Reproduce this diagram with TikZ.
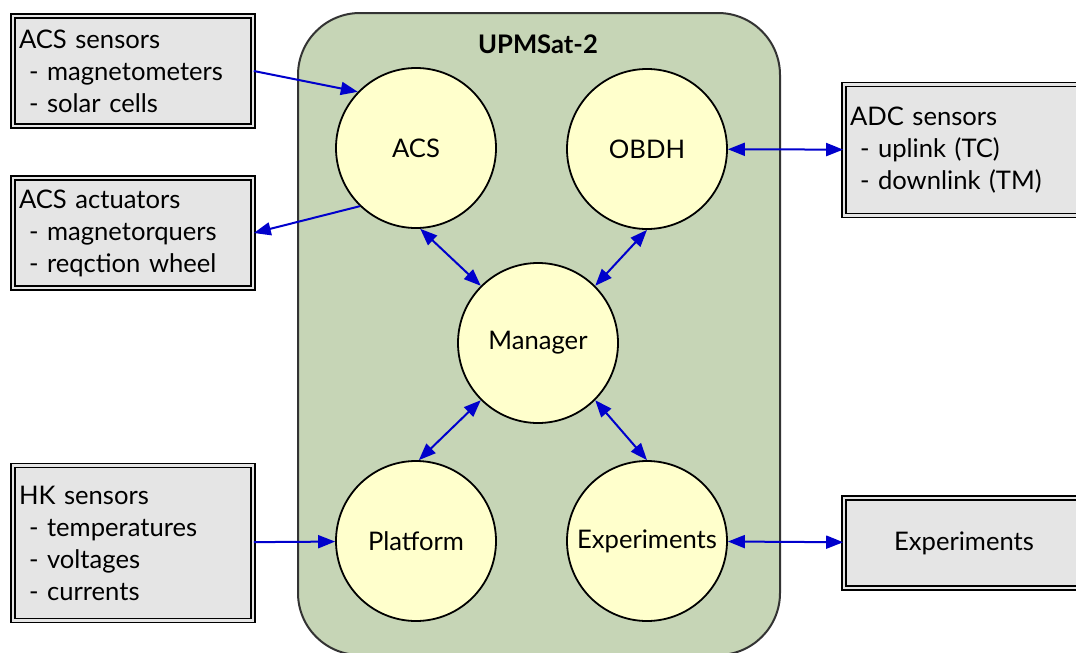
\documentclass[tikz,border=0pt]{standalone}
\usepackage{fontspec}
\setmainfont{Lato}
\usetikzlibrary{arrows.meta}
\definecolor{satgreen}{HTML}{C6D5B6}
\definecolor{blockyellow}{HTML}{FFFFCC}
\definecolor{devicegray}{HTML}{E5E5E5}
\definecolor{linkblue}{HTML}{0000CC}
\begin{document}
\begin{tikzpicture}[x=0.5pt, y=-0.5pt, font=\fontsize{12.8}{16}\selectfont,
  block/.style={draw, circle, black, fill=blockyellow, line width=0.9pt, minimum size=80pt, inner sep=0pt},
  device/.style={draw, rectangle, black, fill=devicegray, line width=0.8pt, double=devicegray, double distance=1.3pt, text width=114pt, inner xsep=3pt, align=left},
  link/.style={linkblue, line width=1pt, -{Triangle[length=8.5pt,width=6.5pt]}},
  duplex/.style={link, {Triangle[length=8.5pt,width=6.5pt]}-{Triangle[length=8.5pt,width=6.5pt]}}]
\useasboundingbox (0,0) rectangle (1076,653);
% satellite
\draw[draw=black!80, fill=satgreen, line width=1pt, rounded corners=31pt] (298,13) rectangle (780,655);
\node[font=\fontsize{12.8}{16}\selectfont\bfseries] (Sat) at (538,44) {UPMSat-2};
% software blocks
\node[block] (ACS) at (416,148) {ACS};
\node[block] (OBDH) at (647,149) {OBDH};
\node[block] (Manager) at (538,343) {Manager};
\node[block] (Platform) at (416,541) {Platform};
\node[block] (Experiments) at (647,541) {Experiments};
% devices
\node[device, minimum height=55pt] (AcsSensors) at (133,71) {ACS sensors\\\hspace*{5pt}- magnetometers\\\hspace*{5pt}- solar cells};
\node[device, minimum height=55pt] (AcsActuators) at (133,233) {ACS actuators\\\hspace*{5pt}- magnetorquers\\\hspace*{5pt}- reqction wheel};
\node[device, minimum height=77.5pt] (HkSensors) at (133,543) {HK sensors\\\hspace*{5pt}- temperatures\\\hspace*{5pt}- voltages\\\hspace*{5pt}- currents};
\node[device, minimum height=65.5pt] (AdcSensors) at (964,150) {ADC sensors\\\hspace*{5pt}- uplink (TC)\\\hspace*{5pt}- downlink (TM)};
\node[device, minimum height=45pt, align=center] (ExpPayload) at (964,543) {Experiments};
% links
\draw[link] (AcsSensors.east) -- (ACS.136);
\draw[link] (ACS.-134) -- (AcsActuators.east);
\draw[duplex] (OBDH) -- (AdcSensors);
\draw[link] (HkSensors) -- (Platform);
\draw[duplex] (Experiments) -- (ExpPayload);
\draw[duplex] (ACS.-87) -- (Manager.135);
\draw[duplex] (OBDH.-90) -- (Manager.45);
\draw[duplex] (Manager.-135) -- (Platform.88);
\draw[duplex] (Manager.-45) -- (Experiments.90);
\end{tikzpicture}
\end{document}
